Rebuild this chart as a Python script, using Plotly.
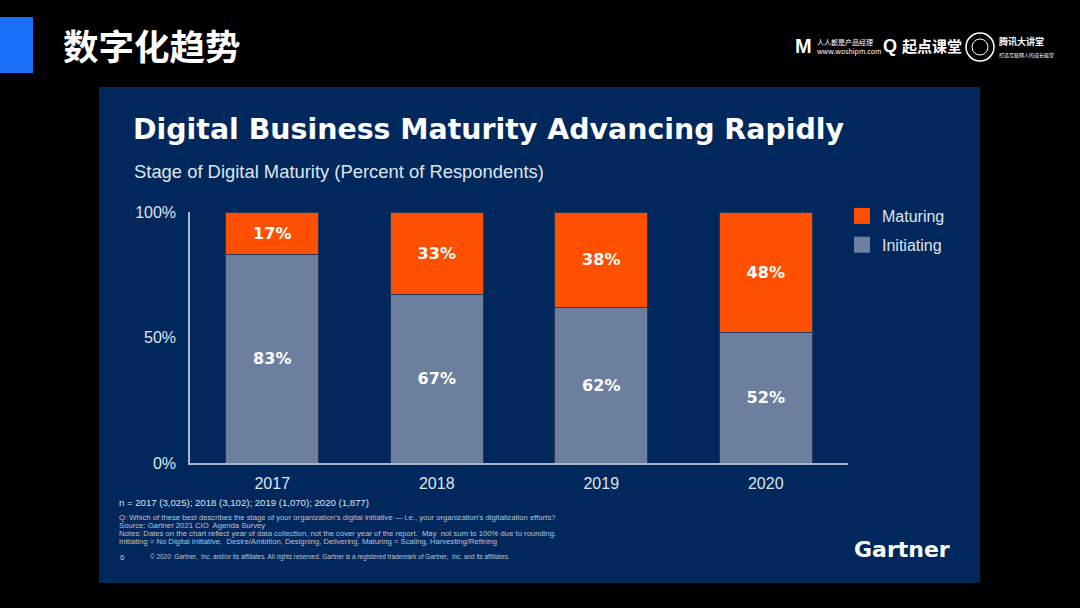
import plotly.graph_objects as go

years = ["2017", "2018", "2019", "2020"]
initiating = [83, 67, 62, 52]
maturing = [17, 33, 38, 48]
y_ticks = [0, 50, 100]
y_tick_labels = ["0%", "50%", "100%"]

NAVY = "#01285c"
ORANGE = "#fe5000"
SLATE = "#6c7f9f"
FONT = "Liberation Sans, Arial, sans-serif"
BOLD = "DejaVu Sans, Verdana, sans-serif"
TXT = "#dfe5ee"

def px(x):
    return x / 1080

def py(y):
    return 1 - y / 608

fig = go.Figure()
fig.add_trace(go.Bar(
    x=years, y=initiating, name="Initiating", showlegend=False,
    marker=dict(color=SLATE, line=dict(color="#2a3556", width=1)),
    text=[f"{v}%" for v in initiating], textposition="inside",
    insidetextanchor="middle",
    textfont=dict(color="white", size=16, family=BOLD, weight="bold"),
    width=0.565,
))
fig.add_trace(go.Bar(
    x=years, y=maturing, name="Maturing", showlegend=False,
    marker=dict(color=ORANGE, line=dict(color="#2a3556", width=1)),
    text=[f"{v}%" for v in maturing], textposition="inside",
    insidetextanchor="middle",
    textfont=dict(color="white", size=16, family=BOLD, weight="bold"),
    width=0.565,
))
# legend entries (square swatches)
for nm, col, grp in [("Maturing", ORANGE, "a"), ("Initiating", SLATE, "b")]:
    fig.add_trace(go.Scatter(
        x=[None], y=[None], mode="markers", name=nm, legendgroup=grp,
        marker=dict(symbol="square", size=16, color=col),
    ))

shapes = [
    dict(type="rect", xref="paper", yref="paper", x0=px(99), x1=px(980), y0=py(583), y1=py(87),
         fillcolor=NAVY, line=dict(width=0), layer="below"),
    dict(type="rect", xref="paper", yref="paper", x0=0, x1=px(33), y0=py(73), y1=py(17),
         fillcolor="#1a6ef5", line=dict(width=0), layer="below"),
    dict(type="circle", xref="paper", yref="paper", x0=px(966), x1=px(994), y0=py(61), y1=py(33),
         line=dict(color="white", width=1.5)),
    dict(type="circle", xref="paper", yref="paper", x0=px(972), x1=px(988), y0=py(55), y1=py(39),
         line=dict(color="white", width=1)),
]

def ann(text, x, y, size, family=FONT, color="white", xanchor="left", yanchor="middle", align="left"):
    return dict(text=text, x=px(x), y=py(y), xref="paper", yref="paper",
                xanchor=xanchor, yanchor=yanchor, align=align, showarrow=False,
                font=dict(family=family, size=size, color=color))

notes = [
    "Q: Which of these best describes the stage of your organization's digital initiative — i.e., your organization's digitalization efforts?",
    "Source: Gartner 2021 CIO  Agenda Survey",
    "Notes: Dates on the chart reflect year of data collection, not the cover year of the report.  May  not sum to 100% due to rounding.",
    "Initiating = No Digital Initiative,  Desire/Ambition, Designing, Delivering. Maturing = Scaling, Harvesting/Refining",
]

annotations = [
    ann("<b>数字化趋势</b>", 61, 44, 35.5, family="Noto Sans CJK SC"),
    ann("<b>Digital Business Maturity Advancing Rapidly</b>", 131, 129, 28.4, family=BOLD),
    ann("Stage of Digital Maturity (Percent of Respondents)", 132, 171, 18.4, color=TXT),
    ann("n = 2017 (3,025); 2018 (3,102); 2019 (1,070); 2020 (1,877)", 117, 502, 9.6, color=TXT),
    ann("6", 118, 557, 8, color="#b9c4d6"),
    ann("© 2020  Gartner,  Inc. and/or its affiliates. All rights reserved. Gartner is a registered trademark of Gartner,  Inc. and its affiliates.",
        148, 557, 6.4, color="#b9c4d6"),
    ann("<b>Gartner</b>", 852, 549, 22, family=BOLD),
    ann("<b>M</b>", 793, 46, 20),
    ann("人人都是产品经理<br>www.woshipm.com", 815, 46, 7, family="Noto Sans CJK SC"),
    ann("<b>Q</b>", 881, 46, 18),
    ann("<b>起点课堂</b>", 900, 45, 15, family="Noto Sans CJK SC"),
    ann("<b>腾讯大讲堂</b><br><span style='font-size:5px'>打造互联网人的成长殿堂</span>", 997, 47, 9,
        family="Noto Sans CJK SC"),
]
for i, line in enumerate(notes):
    annotations.append(ann(line, 117, 517 + 8 * i, 7.7, color="#b9c4d6"))

fig.update_layout(
    width=1080, height=608,
    margin=dict(l=0, r=0, t=0, b=0, autoexpand=False),
    paper_bgcolor="black", plot_bgcolor="rgba(0,0,0,0)",
    barmode="stack",
    showlegend=True,
    legend=dict(x=px(842), y=py(199), xanchor="left", yanchor="top",
                bgcolor="rgba(0,0,0,0)",
                font=dict(family=FONT, size=16, color=TXT),
                tracegroupgap=5),
    xaxis=dict(domain=[px(190), px(848)], range=[-0.5, 3.5], showgrid=False,
               showline=True, linecolor="#aab6ca", linewidth=1.5, zeroline=False,
               tickfont=dict(family=FONT, size=16, color=TXT), ticks="",
               ticklabelstandoff=5, fixedrange=True, automargin=False),
    yaxis=dict(domain=[py(463), py(212)], range=[0, 100], showgrid=False,
               showline=True, linecolor="#aab6ca", linewidth=1.5, zeroline=False,
               tickvals=y_ticks, ticktext=y_tick_labels,
               tickfont=dict(family=FONT, size=16, color=TXT), ticks="",
               ticklabelstandoff=9, fixedrange=True, automargin=False),
    shapes=shapes,
    annotations=annotations,
)

fig.write_html("out.html")
